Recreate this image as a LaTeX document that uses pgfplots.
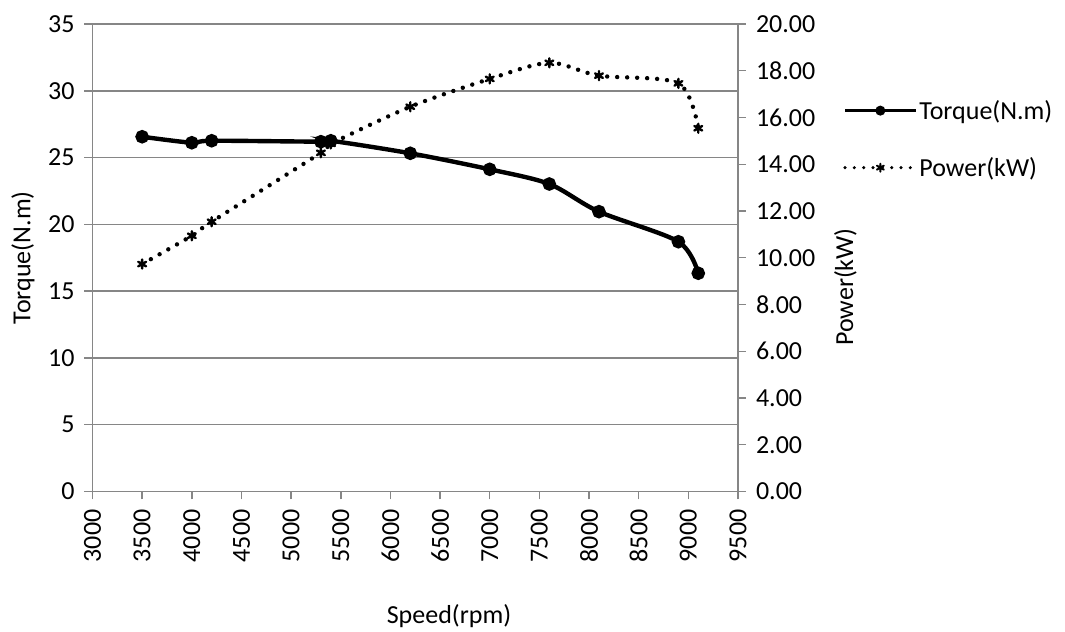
\documentclass[border=0pt]{standalone}
\usepackage{fontspec}
\setmainfont{Carlito}
\usepackage{pgfplots}
\usepackage{pgfplotstable}
\pgfplotsset{compat=1.18}
\definecolor{axgray}{HTML}{868686}

\pgfplotstableread{
rpm torque power
3500 26.56 9.73
4000 26.11 10.94
4200 26.26 11.54
5300 26.19 14.49
5400 26.26 14.87
6200 25.32 16.46
7000 24.12 17.65
7600 23.02 18.34
8100 20.95 17.79
8900 18.70 17.46
9100 16.34 15.54
}\datatable

\pgfplotsset{
  common/.style={
    at={(69.375pt,105.375pt)}, anchor=south west,
    scale only axis, width=484.125pt, height=350.625pt,
    xmin=3000, xmax=9500,
    axis line style={axgray, line width=1.1pt, -},
    tick style={axgray, line width=1.1pt},
    major tick length=6pt,
    tick align=outside,
    ticklabel style={font=\fontsize{19.5}{22}\selectfont},
    label style={font=\fontsize{19.5}{22}\selectfont},
    /pgf/number format/assume math mode=true,
  },
  torquestyle/.style={black, line width=3.3pt, smooth, mark=*, mark size=3.4pt},
  powerstyle/.style={black, line width=3.3pt, line cap=round, dash pattern=on 0pt off 7.5pt, smooth,
    mark=asterisk, mark size=3.4pt, mark options={solid, line width=1.8pt}},
}

\begin{document}
\begin{tikzpicture}[x=1pt,y=1pt]
\useasboundingbox (0,0) rectangle (798.75,474);
\begin{axis}[
  common,
  ymin=0, ymax=35,
  xtick={3000,3500,...,9500}, ytick={0,5,...,35},
  axis x line*=bottom, axis y line*=left,
  ymajorgrids, grid style={axgray, line width=1.1pt},
  xticklabel style={rotate=90, anchor=east, yshift=0pt, xshift=-4pt, /pgf/number format/1000 sep={}},
  yticklabel style={xshift=-4pt},
  xlabel={Speed(rpm)}, ylabel={Torque(N.m)},
  xlabel style={at={(axis description cs:0.5523,-0.2674)}, anchor=center},
  ylabel style={at={(axis description cs:-0.1077,0.5)}, anchor=center},
]
\addplot[torquestyle] table[x=rpm,y=torque]{\datatable};
\end{axis}
\begin{axis}[
  common,
  ymin=0, ymax=20,
  ytick={0,2,...,20},
  axis x line=none, axis y line*=right,
  yticklabel style={xshift=4pt, /pgf/number format/.cd, fixed, fixed zerofill, precision=2},
  ylabel={Power(kW)},
  ylabel style={at={(axis description cs:1.1666,0.4374)}, anchor=center},
  legend style={at={(axis description cs:1.1627,0.842)}, anchor=north west, draw=none, fill=none,
    inner sep=0pt, row sep=24pt, font=\fontsize{19.5}{22}\selectfont, nodes={inner sep=1.5pt}, cells={anchor=west}},
  legend image code/.code={\draw[mark repeat=2,mark phase=2,#1] plot coordinates {(0pt,0pt) (26.5pt,0pt) (53pt,0pt)};},
]
\addlegendimage{black, line width=2.4pt, mark=*, mark size=2.5pt}
\addlegendentry{Torque(N.m)}
\addlegendimage{black, line width=2.6pt, line cap=round, dash pattern=on 0pt off 7pt, mark=asterisk, mark size=3pt, mark options={solid, line width=1.5pt}}
\addlegendentry{Power(kW)}
\addplot[powerstyle, forget plot] table[x=rpm,y=power]{\datatable};
\end{axis}
\end{tikzpicture}
\end{document}
